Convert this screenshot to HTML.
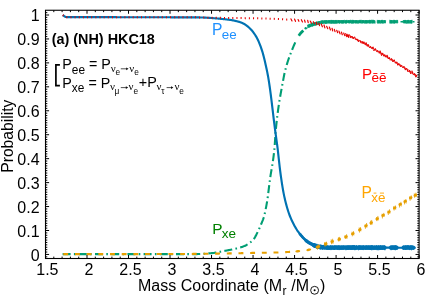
<!DOCTYPE html>
<html><head><meta charset="utf-8"><title>Neutrino survival probability</title>
<style>html,body{margin:0;padding:0;background:#fff;}svg{display:block;will-change:transform;}</style>
</head><body>
<svg width="436" height="305" viewBox="0 0 436 305">
<rect x="0" y="0" width="436" height="305" fill="#fff"/>
<clipPath id="cp"><rect x="45.5" y="10.25" width="373.6" height="248.25"/></clipPath>
<g clip-path="url(#cp)" fill="none" stroke-linejoin="round">
<polyline points="62.60,254.15 63.10,254.15 63.60,254.15 64.10,254.15 64.60,254.15 65.10,254.15 65.60,254.15 66.10,254.15 66.60,254.15 67.10,254.15 67.60,254.15 68.10,254.15 68.60,254.15 69.10,254.15 69.60,254.15 70.10,254.15 70.60,254.15 71.10,254.15 71.60,254.15 72.10,254.15 72.60,254.15 73.10,254.15 73.60,254.15 74.10,254.15 74.60,254.15 75.10,254.15 75.60,254.15 76.10,254.15 76.60,254.15 77.10,254.15 77.60,254.15 78.10,254.15 78.60,254.15 79.10,254.15 79.60,254.15 80.10,254.15 80.60,254.15 81.10,254.15 81.60,254.15 82.10,254.15 82.60,254.15 83.10,254.15 83.60,254.15 84.10,254.15 84.60,254.15 85.10,254.15 85.60,254.15 86.10,254.15 86.60,254.15 87.10,254.15 87.60,254.15 88.10,254.15 88.60,254.15 89.10,254.15 89.60,254.15 90.10,254.15 90.60,254.15 91.10,254.15 91.60,254.15 92.10,254.15 92.60,254.15 93.10,254.15 93.60,254.15 94.10,254.15 94.60,254.15 95.10,254.15 95.60,254.15 96.10,254.15 96.60,254.15 97.10,254.15 97.60,254.15 98.10,254.15 98.60,254.15 99.10,254.15 99.60,254.15 100.10,254.15 100.60,254.15 101.10,254.15 101.60,254.15 102.10,254.15 102.60,254.15 103.10,254.15 103.60,254.15 104.10,254.15 104.60,254.15 105.10,254.15 105.60,254.15 106.10,254.15 106.60,254.15 107.10,254.15 107.60,254.15 108.10,254.15 108.60,254.15 109.10,254.15 109.60,254.15 110.10,254.15 110.60,254.15 111.10,254.15 111.60,254.15 112.10,254.15 112.60,254.15 113.10,254.15 113.60,254.15 114.10,254.15 114.60,254.15 115.10,254.15 115.60,254.15 116.10,254.15 116.60,254.14 117.10,254.14 117.60,254.14 118.10,254.14 118.60,254.14 119.10,254.14 119.60,254.14 120.10,254.14 120.60,254.14 121.10,254.14 121.60,254.14 122.10,254.14 122.60,254.14 123.10,254.14 123.60,254.14 124.10,254.14 124.60,254.14 125.10,254.14 125.60,254.14 126.10,254.14 126.60,254.14 127.10,254.14 127.60,254.14 128.10,254.14 128.60,254.14 129.10,254.14 129.60,254.14 130.10,254.14 130.60,254.14 131.10,254.14 131.60,254.14 132.10,254.14 132.60,254.14 133.10,254.14 133.60,254.14 134.10,254.14 134.60,254.14 135.10,254.14 135.60,254.14 136.10,254.14 136.60,254.14 137.10,254.14 137.60,254.14 138.10,254.14 138.60,254.14 139.10,254.14 139.60,254.14 140.10,254.14 140.60,254.14 141.10,254.14 141.60,254.14 142.10,254.14 142.60,254.14 143.10,254.14 143.60,254.14 144.10,254.14 144.60,254.14 145.10,254.14 145.60,254.14 146.10,254.13 146.60,254.13 147.10,254.13 147.60,254.13 148.10,254.13 148.60,254.13 149.10,254.13 149.60,254.13 150.10,254.13 150.60,254.13 151.10,254.13 151.60,254.13 152.10,254.13 152.60,254.13 153.10,254.13 153.60,254.13 154.10,254.13 154.60,254.13 155.10,254.13 155.60,254.13 156.10,254.13 156.60,254.13 157.10,254.13 157.60,254.13 158.10,254.13 158.60,254.13 159.10,254.13 159.60,254.13 160.10,254.13 160.60,254.13 161.10,254.13 161.60,254.13 162.10,254.13 162.60,254.13 163.10,254.13 163.60,254.13 164.10,254.13 164.60,254.12 165.10,254.12 165.60,254.12 166.10,254.12 166.60,254.12 167.10,254.12 167.60,254.12 168.10,254.12 168.60,254.12 169.10,254.12 169.60,254.12 170.10,254.12 170.60,254.12 171.10,254.12 171.60,254.12 172.10,254.12 172.60,254.12 173.10,254.12 173.60,254.12 174.10,254.12 174.60,254.12 175.10,254.12 175.60,254.12 176.10,254.12 176.60,254.12 177.10,254.12 177.60,254.12 178.10,254.12 178.60,254.11 179.10,254.11 179.60,254.11 180.10,254.11 180.60,254.11 181.10,254.11 181.60,254.11 182.10,254.11 182.60,254.11 183.10,254.11 183.60,254.11 184.10,254.11 184.60,254.11 185.10,254.11 185.60,254.11 186.10,254.11 186.60,254.11 187.10,254.11 187.60,254.11 188.10,254.11 188.60,254.11 189.10,254.11 189.60,254.11 190.10,254.10 190.60,254.10 191.10,254.10 191.60,254.10 192.10,254.10 192.60,254.10 193.10,254.10 193.60,254.10 194.10,254.10 194.60,254.10 195.10,254.10 195.60,254.10 196.10,254.09 196.60,254.09 197.10,254.08 197.60,254.07 198.10,254.05 198.60,254.04 199.10,254.02 199.60,254.00 200.10,253.98 200.60,253.96 201.10,253.93 201.60,253.90 202.10,253.88 202.60,253.85 203.10,253.82 203.60,253.78 204.10,253.75 204.60,253.72 205.10,253.68 205.60,253.64 206.10,253.60 206.60,253.57 207.10,253.53 207.60,253.48 208.10,253.44 208.60,253.40 209.10,253.36 209.60,253.31 210.10,253.27 210.60,253.23 211.10,253.18 211.60,253.14 212.10,253.09 212.60,253.04 213.10,252.99 213.60,252.92 214.10,252.86 214.60,252.78 215.10,252.71 215.60,252.63 216.10,252.54 216.60,252.46 217.10,252.36 217.60,252.27 218.10,252.17 218.60,252.08 219.10,251.98 219.60,251.88 220.10,251.78 220.60,251.67 221.10,251.57 221.60,251.47 222.10,251.37 222.60,251.27 223.10,251.17 223.60,251.08 224.10,250.98 224.60,250.89 225.10,250.80 225.60,250.70 226.10,250.61 226.60,250.52 227.10,250.43 227.60,250.33 228.10,250.24 228.60,250.14 229.10,250.05 229.60,249.95 230.10,249.86 230.60,249.76 231.10,249.66 231.60,249.55 232.10,249.45 232.60,249.34 233.10,249.23 233.60,249.12 234.10,249.01 234.60,248.89 235.10,248.78 235.60,248.66 236.10,248.54 236.60,248.42 237.10,248.30 237.60,248.17 238.10,248.05 238.60,247.92 239.10,247.79 239.60,247.65 240.10,247.51 240.60,247.37 241.10,247.22 241.60,247.06 242.10,246.89 242.60,246.72 243.10,246.53 243.60,246.34 244.10,246.14 244.60,245.93 245.10,245.70 245.60,245.46 246.10,245.21 246.60,244.94 247.10,244.65 247.60,244.35 248.10,244.03 248.60,243.70 249.10,243.34 249.60,242.97 250.10,242.58 250.60,242.17 251.10,241.74 251.60,241.29 252.10,240.82 252.60,240.33 253.10,239.82 253.60,239.27 254.10,238.63 254.60,237.87 255.10,237.03 255.60,236.12 256.10,235.15 256.60,234.15 257.10,233.13 257.60,232.11 258.10,231.09 258.60,230.05 259.10,228.95 259.60,227.82 260.10,226.65 260.60,225.46 261.10,224.26 261.60,223.08 262.10,221.91 262.60,220.67 263.10,219.33 263.60,217.83 264.10,216.10 264.60,214.15 265.10,211.99 265.60,209.63 266.10,207.08 266.60,204.37 267.10,201.50 267.60,198.25 268.10,194.50 268.60,190.46 269.10,186.32 269.60,182.29 270.10,178.56 270.60,175.21 271.10,172.14 271.60,169.22 272.10,166.29 272.60,163.24 273.10,159.93 273.60,156.22 274.10,151.98 274.60,147.07 275.10,139.50 275.60,131.92 276.10,126.79 276.60,122.05 277.10,117.67 277.60,113.60 278.10,109.83 278.60,106.31 279.10,103.01 279.60,99.90 280.10,96.95 280.60,94.12 281.10,91.37 281.60,88.68 282.10,86.01 282.60,83.34 283.10,80.61 283.60,77.84 284.10,75.20 284.60,72.84 285.10,70.81 285.60,68.91 286.10,67.08 286.60,65.34 287.10,63.66 287.60,62.06 288.10,60.51 288.60,59.02 289.10,57.58 289.60,56.19 290.10,54.84 290.60,53.53 291.10,52.25 291.60,50.99 292.10,49.75 292.60,48.53 293.10,47.33 293.60,46.14 294.10,44.97 294.60,43.82 295.10,42.71 295.60,41.62 296.10,40.57 296.60,39.56" stroke="#009e73" stroke-width="2.1" stroke-dasharray="8 3.3 1.6 3.3"/>
<polyline points="298.80,35.68 299.30,34.94 299.80,34.26 300.30,33.62 300.80,33.02 301.30,32.46 301.80,31.92 302.30,31.41 302.80,30.92 303.30,30.44" stroke="#009e73" stroke-width="2.8"/>
<circle cx="305.7" cy="28.3" r="1.2" fill="#009e73"/>
<polyline points="308.00,26.45 308.50,26.15 309.00,25.90 309.50,25.68 310.00,25.47 310.50,25.28 311.00,25.10 311.50,24.94 312.00,24.78 312.50,24.63 313.00,24.49 313.50,24.35 314.00,24.22 314.50,24.09 315.00,23.96 315.50,23.83 316.00,23.70 316.50,23.56 317.00,23.43 317.50,23.28 318.00,23.14 318.50,23.00 319.00,22.86 319.50,22.73 320.00,22.61 320.50,22.49 321.00,22.38 321.50,22.29 322.00,22.21 322.50,22.15 323.00,22.10 323.50,22.06 324.00,22.03 324.50,22.00 325.00,21.97 325.50,21.94 326.00,21.91 326.50,21.89 327.00,21.87 327.50,21.85 328.00,21.83 328.50,21.82 329.00,21.81 329.50,21.80 330.00,21.80 330.50,21.80 331.00,21.80 331.50,21.80 332.00,21.79 332.50,21.79 333.00,21.79 333.50,21.79 334.00,21.79 334.50,21.79 335.00,21.79 335.50,21.78 336.00,21.78 336.50,21.78 337.00,21.78 337.50,21.78 338.00,21.78 338.50,21.78 339.00,21.77 339.50,21.77 340.00,21.77 340.50,21.77 341.00,21.77 341.50,21.77 342.00,21.77 342.50,21.77 343.00,21.76 343.50,21.76 344.00,21.76 344.50,21.76 345.00,21.76 345.50,21.76 346.00,21.76 346.50,21.76 347.00,21.76 347.50,21.75 348.00,21.75 348.50,21.75 349.00,21.75 349.50,21.75 350.00,21.75 350.50,21.75 351.00,21.75 351.50,21.75 352.00,21.75 352.50,21.75 353.00,21.74 353.50,21.74 354.00,21.74 354.50,21.74 355.00,21.74 355.50,21.74 356.00,21.74 356.50,21.74 357.00,21.74 357.50,21.74 358.00,21.74 358.50,21.73 359.00,21.73 359.50,21.73 360.00,21.73 360.50,21.73 361.00,21.73 361.50,21.73 362.00,21.73 362.50,21.73 363.00,21.73 363.50,21.73 364.00,21.73 364.50,21.73 365.00,21.73 365.50,21.73 366.00,21.72 366.50,21.72 367.00,21.72 367.50,21.72 368.00,21.72 368.50,21.72 369.00,21.72 369.50,21.72 370.00,21.72 370.50,21.72 371.00,21.72 371.50,21.72 372.00,21.72 372.50,21.72 373.00,21.72 373.50,21.72 374.00,21.72 374.50,21.72 375.00,21.71" stroke="#009e73" stroke-width="3.1" stroke-dasharray="2.7 0.7"/>
<polyline points="308.00,26.45 308.50,26.15 309.00,25.90 309.50,25.68 310.00,25.47 310.50,25.28 311.00,25.10 311.50,24.94 312.00,24.78 312.50,24.63 313.00,24.49 313.50,24.35 314.00,24.22 314.50,24.09 315.00,23.96 315.50,23.83 316.00,23.70 316.50,23.56 317.00,23.43 317.50,23.28 318.00,23.14 318.50,23.00 319.00,22.86 319.50,22.73 320.00,22.61 320.50,22.49 321.00,22.38 321.50,22.29 322.00,22.21 322.50,22.15 323.00,22.10 323.50,22.06 324.00,22.03 324.50,22.00 325.00,21.97 325.50,21.94 326.00,21.91 326.50,21.89 327.00,21.87 327.50,21.85 328.00,21.83 328.50,21.82 329.00,21.81 329.50,21.80 330.00,21.80 330.50,21.80 331.00,21.80 331.50,21.80 332.00,21.79 332.50,21.79 333.00,21.79 333.50,21.79 334.00,21.79 334.50,21.79 335.00,21.79 335.50,21.78 336.00,21.78 336.50,21.78 337.00,21.78 337.50,21.78 338.00,21.78 338.50,21.78 339.00,21.77 339.50,21.77 340.00,21.77 340.50,21.77 341.00,21.77 341.50,21.77 342.00,21.77 342.50,21.77 343.00,21.76 343.50,21.76 344.00,21.76 344.50,21.76 345.00,21.76 345.50,21.76 346.00,21.76 346.50,21.76 347.00,21.76 347.50,21.75 348.00,21.75 348.50,21.75 349.00,21.75 349.50,21.75 350.00,21.75 350.50,21.75 351.00,21.75 351.50,21.75 352.00,21.75 352.50,21.75 353.00,21.74 353.50,21.74 354.00,21.74 354.50,21.74 355.00,21.74 355.50,21.74 356.00,21.74 356.50,21.74 357.00,21.74 357.50,21.74 358.00,21.74 358.50,21.73 359.00,21.73 359.50,21.73 360.00,21.73 360.50,21.73 361.00,21.73 361.50,21.73 362.00,21.73 362.50,21.73 363.00,21.73 363.50,21.73 364.00,21.73 364.50,21.73 365.00,21.73 365.50,21.73 366.00,21.72 366.50,21.72 367.00,21.72 367.50,21.72 368.00,21.72 368.50,21.72 369.00,21.72 369.50,21.72 370.00,21.72 370.50,21.72 371.00,21.72 371.50,21.72 372.00,21.72 372.50,21.72 373.00,21.72 373.50,21.72 374.00,21.72 374.50,21.72 375.00,21.71" stroke="#009e73" stroke-width="2.2" stroke-opacity="0.4"/>
<polyline points="307.50,28.61 307.80,24.85 308.10,27.83 308.40,24.91 308.70,27.57 309.00,24.47 309.30,27.53 309.60,24.30 309.90,27.00 310.20,23.81 310.50,27.15 310.80,23.66 311.10,26.39 311.40,23.23 311.70,26.49 312.00,23.49 312.30,26.56 312.60,22.67 312.90,26.30 313.20,22.57 313.50,25.70 313.80,22.56 314.10,26.05 314.40,22.44 314.70,25.52 315.00,22.80 315.30,25.34 315.60,22.20 315.90,25.60 316.20,21.73 316.50,25.06 316.80,21.65 317.10,24.70 317.40,21.53 317.70,24.78 318.00,22.06 318.30,24.76 318.60,21.55 318.90,24.69 319.20,21.15 319.50,23.81 319.80,21.15 320.10,24.42 320.40,21.23 320.70,23.80 321.00,20.55 321.30,23.57 321.60,20.70 321.90,23.51 322.20,20.26 322.50,23.92 322.80,20.65 323.10,23.24 323.40,20.72 323.70,23.57 324.00,20.14 324.30,23.18 324.60,20.44 324.90,23.67 325.20,20.40 325.50,23.73 325.80,20.38 326.10,23.83 326.40,20.29 326.70,23.47 327.00,20.41 327.30,23.45 327.60,20.44 327.90,23.41 328.20,20.50 328.50,23.06 328.80,20.58 329.10,23.42 329.40,20.16 329.70,23.29 330.00,20.65 330.30,23.54 330.60,19.96 330.90,23.68 331.20,19.98 331.50,23.66 331.80,19.91 332.10,23.34 332.40,20.38 332.70,23.48 333.00,20.48 333.30,23.57 333.60,19.97 333.90,23.65 334.20,20.20 334.50,23.69 334.80,20.20 335.10,23.25 335.40,20.13 335.70,23.73 336.00,19.91 336.30,23.55 336.60,20.64 336.90,23.39 337.20,20.28 337.50,23.40 337.80,19.96 338.10,23.06 338.40,20.06 338.70,22.95 339.00,20.51 339.30,23.54 339.60,20.41 339.90,23.56 340.20,20.61 340.50,22.97 340.80,20.09 341.10,22.88 341.40,20.19 341.70,23.64 342.00,20.23 342.30,23.44 342.60,20.67 342.90,23.39 343.20,20.16 343.50,23.34 343.80,20.35 344.10,23.16 344.40,19.83 344.70,22.87 345.00,20.67 345.30,23.68 345.60,20.52 345.90,22.94 346.20,20.50 346.50,23.53 346.80,19.86 347.10,22.85 347.40,20.31 347.70,22.92 348.00,20.45 348.30,23.02 348.60,20.11 348.90,23.13 349.20,20.52 349.50,23.27 349.80,20.64 350.10,22.91 350.40,19.81 350.70,23.00 351.00,20.36 351.30,23.46 351.60,19.94 351.90,23.62 352.20,20.52 352.50,23.41 352.80,19.82 353.10,22.87 353.40,20.08 353.70,23.56 354.00,20.37 354.30,23.03 354.60,20.15 354.90,23.20 355.20,20.51 355.50,23.23 355.80,20.31 356.10,23.31 356.40,20.22 356.70,23.08 357.00,20.35 357.30,23.54 357.60,20.44 357.90,23.30 358.20,20.65 358.50,23.46 358.80,20.37 359.10,22.85 359.40,20.41 359.70,23.02 360.00,19.82 360.30,23.11 360.60,20.41 360.90,23.12 361.20,19.83 361.50,23.36 361.80,20.11 362.10,23.43 362.40,20.32 362.70,23.16 363.00,20.08 363.30,22.80 363.60,20.49 363.90,23.09 364.20,20.44 364.50,23.36 364.80,20.32 365.10,23.57 365.40,20.15 365.70,23.16 366.00,20.30 366.30,23.41 366.60,20.28 366.90,23.38 367.20,20.61 367.50,23.19 367.80,20.42 368.10,22.93 368.40,20.19 368.70,23.22 369.00,20.16 369.30,23.46 369.60,19.87 369.90,23.23 370.20,20.37 370.50,23.20 370.80,19.94 371.10,23.56 371.40,19.93 371.70,22.96 372.00,19.77 372.30,23.35 372.60,20.57 372.90,23.43 373.20,19.78 373.50,23.14 373.80,20.05 374.10,23.07 374.40,20.46 374.70,23.42 375.00,20.64 375.30,23.51" stroke="#009e73" stroke-width="0.6" stroke-opacity="0.9"/>
<polyline points="377.50,21.71 378.00,21.71 378.50,21.71 379.00,21.71 379.50,21.71 380.00,21.71 380.50,21.71 381.00,21.71 381.50,21.71 382.00,21.71 382.50,21.71 383.00,21.71 383.50,21.71 384.00,21.71 384.50,21.71 385.00,21.71 385.50,21.71" stroke="#009e73" stroke-width="3.1" stroke-dasharray="2.4 0.9"/>
<polyline points="377.50,21.71 378.00,21.71 378.50,21.71 379.00,21.71 379.50,21.71 380.00,21.71 380.50,21.71 381.00,21.71 381.50,21.71 382.00,21.71 382.50,21.71 383.00,21.71 383.50,21.71 384.00,21.71 384.50,21.71 385.00,21.71 385.50,21.71" stroke="#009e73" stroke-width="2.2" stroke-opacity="0.4"/>
<polyline points="377.00,22.90 377.30,19.90 377.60,23.46 377.90,20.42 378.20,23.22 378.50,20.24 378.80,23.36 379.10,19.95 379.40,22.87 379.70,20.61 380.00,23.52 380.30,20.26 380.60,23.45 380.90,20.64 381.20,23.17 381.50,20.00 381.80,22.98 382.10,19.81 382.40,23.57 382.70,20.61 383.00,22.80 383.30,20.16 383.60,23.60 383.90,20.30 384.20,22.97 384.50,20.26 384.80,22.81 385.10,20.44 385.40,23.16 385.70,20.20" stroke="#009e73" stroke-width="0.6" stroke-opacity="0.9"/>
<polyline points="390.00,21.70 390.50,21.70 391.00,21.70 391.50,21.70 392.00,21.70 392.50,21.70 393.00,21.70 393.50,21.70 394.00,21.70 394.50,21.70 395.00,21.70 395.50,21.70 396.00,21.70 396.50,21.70 397.00,21.70 397.50,21.70" stroke="#009e73" stroke-width="3.1" stroke-dasharray="2.4 0.9"/>
<polyline points="390.00,21.70 390.50,21.70 391.00,21.70 391.50,21.70 392.00,21.70 392.50,21.70 393.00,21.70 393.50,21.70 394.00,21.70 394.50,21.70 395.00,21.70 395.50,21.70 396.00,21.70 396.50,21.70 397.00,21.70 397.50,21.70" stroke="#009e73" stroke-width="2.2" stroke-opacity="0.4"/>
<polyline points="389.50,23.62 389.80,19.80 390.10,22.83 390.40,20.56 390.70,23.51 391.00,19.99 391.30,23.36 391.60,20.36 391.90,23.31 392.20,20.10 392.50,23.29 392.80,20.49 393.10,23.15 393.40,20.29 393.70,23.41 394.00,19.76 394.30,23.61 394.60,20.15 394.90,23.17 395.20,20.40 395.50,22.81 395.80,20.61 396.10,23.18 396.40,20.35 396.70,23.11 397.00,19.85 397.30,23.24 397.60,20.14 397.90,22.98" stroke="#009e73" stroke-width="0.6" stroke-opacity="0.9"/>
<polyline points="403.50,21.70 404.00,21.70 404.50,21.70 405.00,21.70 405.50,21.70 406.00,21.70 406.50,21.70 407.00,21.70 407.50,21.70 408.00,21.70 408.50,21.70 409.00,21.70 409.50,21.70 410.00,21.70 410.50,21.70 411.00,21.70 411.50,21.70 412.00,21.70" stroke="#009e73" stroke-width="3.1" stroke-dasharray="2.5 0.8"/>
<polyline points="403.50,21.70 404.00,21.70 404.50,21.70 405.00,21.70 405.50,21.70 406.00,21.70 406.50,21.70 407.00,21.70 407.50,21.70 408.00,21.70 408.50,21.70 409.00,21.70 409.50,21.70 410.00,21.70 410.50,21.70 411.00,21.70 411.50,21.70 412.00,21.70" stroke="#009e73" stroke-width="2.2" stroke-opacity="0.4"/>
<polyline points="403.00,22.98 403.30,20.15 403.60,23.10 403.90,20.10 404.20,23.32 404.50,20.57 404.80,22.78 405.10,19.89 405.40,23.00 405.70,20.42 406.00,23.65 406.30,20.22 406.60,23.51 406.90,20.21 407.20,23.33 407.50,20.50 407.80,23.33 408.10,19.87 408.40,23.23 408.70,19.98 409.00,23.36 409.30,20.57 409.60,23.44 409.90,20.11 410.20,23.04 410.50,20.60 410.80,23.53 411.10,20.21 411.40,23.40 411.70,19.86 412.00,23.40 412.30,19.82" stroke="#009e73" stroke-width="0.6" stroke-opacity="0.9"/>
<polyline points="400.50,21.70 401.00,21.70 401.50,21.70 402.00,21.70 402.50,21.70 403.00,21.70" stroke="#009e73" stroke-width="1.6"/>
<polyline points="412.50,21.70 413.00,21.70 413.50,21.70 414.00,21.70 414.50,21.70" stroke="#009e73" stroke-width="1.6"/>
<polyline points="62.70,15.10 63.20,15.40 63.70,15.73 64.20,16.12 64.70,16.54 65.20,16.77 65.70,16.93 66.20,17.06 66.70,17.14 67.20,17.15 67.70,17.15 68.20,17.15 68.70,17.15 69.20,17.16 69.70,17.16 70.20,17.16 70.70,17.16 71.20,17.16 71.70,17.16 72.20,17.16 72.70,17.16 73.20,17.16 73.70,17.17 74.20,17.17 74.70,17.17 75.20,17.17 75.70,17.17 76.20,17.17 76.70,17.17 77.20,17.17 77.70,17.17 78.20,17.17 78.70,17.17 79.20,17.17 79.70,17.17 80.20,17.17 80.70,17.18 81.20,17.18 81.70,17.18 82.20,17.18 82.70,17.18 83.20,17.18 83.70,17.18 84.20,17.18 84.70,17.18 85.20,17.18 85.70,17.18 86.20,17.18 86.70,17.18 87.20,17.18 87.70,17.18 88.20,17.18 88.70,17.18 89.20,17.18 89.70,17.18 90.20,17.18 90.70,17.18 91.20,17.18 91.70,17.18 92.20,17.18 92.70,17.18 93.20,17.18 93.70,17.18 94.20,17.18 94.70,17.18 95.20,17.18 95.70,17.18 96.20,17.18 96.70,17.18 97.20,17.18 97.70,17.19 98.20,17.19 98.70,17.19 99.20,17.19 99.70,17.19 100.20,17.19 100.70,17.19 101.20,17.19 101.70,17.19 102.20,17.19 102.70,17.19 103.20,17.19 103.70,17.19 104.20,17.19 104.70,17.19 105.20,17.19 105.70,17.19 106.20,17.19 106.70,17.19 107.20,17.19 107.70,17.19 108.20,17.19 108.70,17.19 109.20,17.19 109.70,17.19 110.20,17.19 110.70,17.19 111.20,17.19 111.70,17.19 112.20,17.19 112.70,17.19 113.20,17.19 113.70,17.19 114.20,17.19 114.70,17.19 115.20,17.19 115.70,17.19 116.20,17.20 116.70,17.20 117.20,17.20 117.70,17.20 118.20,17.20 118.70,17.20 119.20,17.20 119.70,17.20 120.20,17.20 120.70,17.20 121.20,17.20 121.70,17.20 122.20,17.20 122.70,17.20 123.20,17.20 123.70,17.21 124.20,17.21 124.70,17.21 125.20,17.21 125.70,17.21 126.20,17.21 126.70,17.21 127.20,17.21 127.70,17.21 128.20,17.21 128.70,17.21 129.20,17.21 129.70,17.21 130.20,17.21 130.70,17.21 131.20,17.21 131.70,17.22 132.20,17.22 132.70,17.22 133.20,17.22 133.70,17.22 134.20,17.22 134.70,17.22 135.20,17.22 135.70,17.22 136.20,17.22 136.70,17.22 137.20,17.22 137.70,17.22 138.20,17.22 138.70,17.23 139.20,17.23 139.70,17.23 140.20,17.23 140.70,17.23 141.20,17.23 141.70,17.23 142.20,17.23 142.70,17.23 143.20,17.23 143.70,17.23 144.20,17.23 144.70,17.23 145.20,17.23 145.70,17.24 146.20,17.24 146.70,17.24 147.20,17.24 147.70,17.24 148.20,17.24 148.70,17.24 149.20,17.24 149.70,17.24 150.20,17.24 150.70,17.24 151.20,17.25 151.70,17.25 152.20,17.25 152.70,17.25 153.20,17.25 153.70,17.25 154.20,17.25 154.70,17.25 155.20,17.25 155.70,17.25 156.20,17.26 156.70,17.26 157.20,17.26 157.70,17.26 158.20,17.26 158.70,17.26 159.20,17.26 159.70,17.26 160.20,17.27 160.70,17.27 161.20,17.27 161.70,17.27 162.20,17.27 162.70,17.27 163.20,17.27 163.70,17.27 164.20,17.28 164.70,17.28 165.20,17.28 165.70,17.28 166.20,17.28 166.70,17.28 167.20,17.28 167.70,17.29 168.20,17.29 168.70,17.29 169.20,17.29 169.70,17.29 170.20,17.29 170.70,17.30 171.20,17.30 171.70,17.30 172.20,17.30 172.70,17.30 173.20,17.30 173.70,17.31 174.20,17.31 174.70,17.31 175.20,17.31 175.70,17.31 176.20,17.32 176.70,17.32 177.20,17.32 177.70,17.32 178.20,17.32 178.70,17.33 179.20,17.33 179.70,17.33 180.20,17.33 180.70,17.34 181.20,17.34 181.70,17.34 182.20,17.34 182.70,17.34 183.20,17.35 183.70,17.35 184.20,17.35 184.70,17.35 185.20,17.36 185.70,17.36 186.20,17.36 186.70,17.37 187.20,17.37 187.70,17.37 188.20,17.37 188.70,17.38 189.20,17.38 189.70,17.38 190.20,17.38 190.70,17.39 191.20,17.39 191.70,17.39 192.20,17.40 192.70,17.40 193.20,17.40 193.70,17.41 194.20,17.41 194.70,17.41 195.20,17.42 195.70,17.42 196.20,17.42 196.70,17.43 197.20,17.43 197.70,17.43 198.20,17.44 198.70,17.44 199.20,17.44 199.70,17.45 200.20,17.45 200.70,17.46 201.20,17.47 201.70,17.48 202.20,17.49 202.70,17.51 203.20,17.53 203.70,17.55 204.20,17.57 204.70,17.59 205.20,17.62 205.70,17.64 206.20,17.67 206.70,17.70 207.20,17.73 207.70,17.77 208.20,17.80 208.70,17.83 209.20,17.87 209.70,17.90 210.20,17.94 210.70,17.98 211.20,18.02 211.70,18.05 212.20,18.09 212.70,18.13 213.20,18.17 213.70,18.20 214.20,18.24 214.70,18.28 215.20,18.31 215.70,18.35 216.20,18.39 216.70,18.43 217.20,18.48 217.70,18.52 218.20,18.57 218.70,18.61 219.20,18.66 219.70,18.71 220.20,18.76 220.70,18.81 221.20,18.86 221.70,18.92 222.20,18.97 222.70,19.02 223.20,19.08 223.70,19.13 224.20,19.18 224.70,19.24 225.20,19.29 225.70,19.34 226.20,19.40 226.70,19.45 227.20,19.50 227.70,19.56 228.20,19.62 228.70,19.69 229.20,19.76 229.70,19.83 230.20,19.90 230.70,19.98 231.20,20.06 231.70,20.15 232.20,20.24 232.70,20.33 233.20,20.42 233.70,20.52 234.20,20.63 234.70,20.73 235.20,20.84 235.70,20.96 236.20,21.08 236.70,21.20 237.20,21.33 237.70,21.46 238.20,21.60 238.70,21.74 239.20,21.89 239.70,22.05 240.20,22.22 240.70,22.39 241.20,22.58 241.70,22.77 242.20,22.97 242.70,23.19 243.20,23.42 243.70,23.68 244.20,23.96 244.70,24.26 245.20,24.58 245.70,24.91 246.20,25.27 246.70,25.64 247.20,26.03 247.70,26.43 248.20,26.85 248.70,27.28 249.20,27.72 249.70,28.18 250.20,28.66 250.70,29.17 251.20,29.70 251.70,30.27 252.20,30.86 252.70,31.48 253.20,32.13 253.70,32.80 254.20,33.51 254.70,34.25 255.20,35.01 255.70,35.81 256.20,36.63 256.70,37.50 257.20,38.43 257.70,39.43 258.20,40.50 258.70,41.63 259.20,42.82 259.70,44.06 260.20,45.37 260.70,46.73 261.20,48.14 261.70,49.60 262.20,51.14 262.70,52.81 263.20,54.60 263.70,56.49 264.20,58.48 264.70,60.55 265.20,62.70 265.70,64.91 266.20,67.16 266.70,69.46 267.20,71.86 267.70,74.42 268.20,77.16 268.70,80.11 269.20,83.31 269.70,86.75 270.20,90.39 270.70,94.19 271.20,98.14 271.70,102.18 272.20,106.30 272.70,110.46 273.20,114.63 273.70,118.77 274.20,122.86 274.70,126.86 275.20,130.74 275.70,134.47 276.20,138.02 276.70,141.55 277.20,145.23 277.70,149.23 278.20,153.56 278.70,158.08 279.20,162.62 279.70,167.06 280.20,171.23 280.70,175.00 281.20,178.47 281.70,181.82 282.20,185.05 282.70,188.11 283.20,190.99 283.70,193.66 284.20,196.10 284.70,198.31 285.20,200.42 285.70,202.44 286.20,204.37 286.70,206.22 287.20,207.98 287.70,209.65 288.20,211.24 288.70,212.75 289.20,214.17 289.70,215.50 290.20,216.76 290.70,217.95 291.20,219.10 291.70,220.21 292.20,221.29 292.70,222.33 293.20,223.34 293.70,224.32 294.20,225.27 294.70,226.18 295.20,227.06 295.70,227.91 296.20,228.74 296.70,229.53 297.20,230.30 297.70,231.03 298.20,231.75 298.70,232.43 299.20,233.09 299.70,233.73 300.20,234.35 300.70,234.96 301.20,235.55 301.70,236.14 302.20,236.71 302.70,237.27 303.20,237.81 303.70,238.34 304.20,238.85 304.70,239.34 305.20,239.81 305.70,240.26 306.20,240.69 306.70,241.10 307.20,241.48 307.70,241.84 308.20,242.18 308.70,242.48 309.20,242.77 309.70,243.05 310.20,243.33 310.70,243.60 311.20,243.87 311.70,244.14 312.20,244.39 312.70,244.64 313.20,244.88 313.70,245.12 314.20,245.34 314.70,245.55 315.20,245.75 315.70,245.95 316.20,246.12 316.70,246.29 317.20,246.44 317.70,246.58 318.20,246.70 318.70,246.81 319.20,246.89 319.70,246.97 320.20,247.02 320.70,247.07 321.20,247.12 321.70,247.17 322.20,247.21 322.70,247.25 323.20,247.30 323.70,247.33 324.20,247.37 324.70,247.41 325.20,247.44 325.70,247.47 326.20,247.49 326.70,247.52 327.20,247.54 327.70,247.56 328.20,247.57 328.70,247.58 329.20,247.59 329.70,247.60 330.20,247.60 330.70,247.60 331.20,247.60 331.70,247.61 332.20,247.61 332.70,247.61 333.20,247.61 333.70,247.61 334.20,247.61 334.70,247.61 335.20,247.62 335.70,247.62 336.20,247.62 336.70,247.62 337.20,247.62 337.70,247.62 338.20,247.62 338.70,247.62 339.20,247.63 339.70,247.63 340.20,247.63 340.70,247.63 341.20,247.63 341.70,247.63 342.20,247.63 342.70,247.63 343.20,247.64 343.70,247.64 344.20,247.64 344.70,247.64 345.20,247.64 345.70,247.64 346.20,247.64 346.70,247.64 347.20,247.64 347.70,247.65 348.20,247.65 348.70,247.65 349.20,247.65 349.70,247.65 350.20,247.65 350.70,247.65 351.20,247.65 351.70,247.65 352.20,247.65 352.70,247.65 353.20,247.66 353.70,247.66 354.20,247.66 354.70,247.66 355.20,247.66 355.70,247.66 356.20,247.66 356.70,247.66 357.20,247.66 357.70,247.66 358.20,247.66 358.70,247.66 359.20,247.67 359.70,247.67 360.20,247.67 360.70,247.67 361.20,247.67 361.70,247.67 362.20,247.67 362.70,247.67 363.20,247.67 363.70,247.67 364.20,247.67 364.70,247.67 365.20,247.67 365.70,247.67 366.20,247.68 366.70,247.68 367.20,247.68 367.70,247.68 368.20,247.68 368.70,247.68 369.20,247.68 369.70,247.68 370.20,247.68 370.70,247.68 371.20,247.68 371.70,247.68 372.20,247.68 372.70,247.68 373.20,247.68 373.70,247.68 374.20,247.68 374.70,247.68 375.20,247.68 375.70,247.69 376.20,247.69 376.70,247.69 377.20,247.69 377.70,247.69 378.20,247.69 378.70,247.69 379.20,247.69 379.70,247.69 380.20,247.69 380.70,247.69 381.20,247.69 381.70,247.69 382.20,247.69 382.70,247.69 383.20,247.69 383.70,247.69 384.20,247.69 384.70,247.69 385.20,247.69 385.70,247.69 386.20,247.69 386.70,247.69 387.20,247.69 387.70,247.69 388.20,247.69 388.70,247.69 389.20,247.69 389.70,247.69 390.20,247.69 390.70,247.70 391.20,247.70 391.70,247.70 392.20,247.70 392.70,247.70 393.20,247.70 393.70,247.70 394.20,247.70 394.70,247.70 395.20,247.70 395.70,247.70 396.20,247.70 396.70,247.70 397.20,247.70 397.70,247.70 398.20,247.70 398.70,247.70 399.20,247.70 399.70,247.70 400.20,247.70 400.70,247.70 401.20,247.70 401.70,247.70 402.20,247.70 402.70,247.70 403.20,247.70 403.70,247.70 404.20,247.70 404.70,247.70 405.20,247.70 405.70,247.70 406.20,247.70 406.70,247.70 407.20,247.70 407.70,247.70 408.20,247.70 408.70,247.70 409.20,247.70 409.70,247.70 410.20,247.70 410.70,247.70 411.20,247.70 411.70,247.70 412.20,247.70 412.70,247.70 413.20,247.70 413.70,247.70 414.20,247.70 414.70,247.70 415.20,247.70 415.70,247.70" stroke="#0072b2" stroke-width="2.15"/>
<polyline points="314.00,245.25 314.50,245.47 315.00,245.68 315.50,245.87 316.00,246.05 316.50,246.22 317.00,246.38 317.50,246.52 318.00,246.65 318.50,246.77 319.00,246.86 319.50,246.94 320.00,247.00 320.50,247.05 321.00,247.10 321.50,247.15 322.00,247.19 322.50,247.24 323.00,247.28 323.50,247.32 324.00,247.36 324.50,247.39 325.00,247.42 325.50,247.46 326.00,247.48 326.50,247.51 327.00,247.53 327.50,247.55 328.00,247.57 328.50,247.58 329.00,247.59 329.50,247.60 330.00,247.60 330.50,247.60 331.00,247.60 331.50,247.60 332.00,247.61 332.50,247.61 333.00,247.61 333.50,247.61 334.00,247.61 334.50,247.61 335.00,247.61 335.50,247.62 336.00,247.62 336.50,247.62 337.00,247.62 337.50,247.62 338.00,247.62 338.50,247.62 339.00,247.63 339.50,247.63 340.00,247.63 340.50,247.63 341.00,247.63 341.50,247.63 342.00,247.63 342.50,247.63 343.00,247.63 343.50,247.64 344.00,247.64 344.50,247.64 345.00,247.64 345.50,247.64 346.00,247.64 346.50,247.64 347.00,247.64 347.50,247.64 348.00,247.65 348.50,247.65 349.00,247.65 349.50,247.65 350.00,247.65 350.50,247.65 351.00,247.65 351.50,247.65 352.00,247.65 352.50,247.65 353.00,247.66 353.50,247.66 354.00,247.66 354.50,247.66 355.00,247.66 355.50,247.66 356.00,247.66 356.50,247.66 357.00,247.66 357.50,247.66 358.00,247.66 358.50,247.66 359.00,247.67 359.50,247.67 360.00,247.67 360.50,247.67 361.00,247.67 361.50,247.67 362.00,247.67 362.50,247.67 363.00,247.67 363.50,247.67 364.00,247.67 364.50,247.67 365.00,247.67 365.50,247.67 366.00,247.68 366.50,247.68 367.00,247.68 367.50,247.68 368.00,247.68 368.50,247.68 369.00,247.68 369.50,247.68 370.00,247.68 370.50,247.68 371.00,247.68 371.50,247.68 372.00,247.68 372.50,247.68 373.00,247.68 373.50,247.68 374.00,247.68 374.50,247.68 375.00,247.68 375.50,247.69 376.00,247.69 376.50,247.69 377.00,247.69 377.50,247.69 378.00,247.69 378.50,247.69 379.00,247.69 379.50,247.69 380.00,247.69 380.50,247.69 381.00,247.69 381.50,247.69 382.00,247.69 382.50,247.69 383.00,247.69 383.50,247.69 384.00,247.69 384.50,247.69" stroke="#0072b2" stroke-width="4.3" stroke-linecap="round"/>
<polyline points="313.50,247.08 313.80,243.27 314.10,247.36 314.40,243.79 314.70,247.89 315.00,243.33 315.30,247.95 315.60,244.32 315.90,248.02 316.20,244.35 316.50,247.91 316.80,243.83 317.10,248.96 317.40,245.04 317.70,248.97 318.00,244.56 318.30,248.56 318.60,245.06 318.90,249.02 319.20,244.97 319.50,249.13 319.80,244.82 320.10,248.57 320.40,244.76 320.70,249.60 321.00,244.59 321.30,249.23 321.60,245.70 321.90,248.59 322.20,245.65 322.50,249.72 322.80,245.51 323.10,249.11 323.40,244.88 323.70,249.10 324.00,245.32 324.30,249.28 324.60,245.92 324.90,249.49 325.20,245.07 325.50,249.04 325.80,245.81 326.10,249.36 326.40,246.06 326.70,249.49 327.00,245.19 327.30,249.70 327.60,245.54 327.90,249.95 328.20,246.00 328.50,249.63 328.80,245.75 329.10,249.68 329.40,246.06 329.70,249.89 330.00,246.09 330.30,249.19 330.60,245.27 330.90,250.09 331.20,245.70 331.50,249.48 331.80,245.92 332.10,249.32 332.40,245.50 332.70,249.22 333.00,246.07 333.30,249.54 333.60,246.02 333.90,249.76 334.20,245.27 334.50,249.91 334.80,245.66 335.10,249.42 335.40,245.71 335.70,249.02 336.00,245.40 336.30,249.40 336.60,245.85 336.90,249.11 337.20,245.70 337.50,249.69 337.80,245.77 338.10,250.02 338.40,245.45 338.70,249.30 339.00,245.62 339.30,250.07 339.60,245.63 339.90,249.72 340.20,246.15 340.50,249.59 340.80,245.70 341.10,249.49 341.40,245.75 341.70,249.71 342.00,245.61 342.30,249.60 342.60,246.04 342.90,249.54 343.20,245.12 343.50,249.51 343.80,246.19 344.10,249.04 344.40,245.62 344.70,249.10 345.00,246.13 345.30,249.17 345.60,245.72 345.90,250.18 346.20,245.68 346.50,249.57 346.80,245.74 347.10,249.62 347.40,245.73 347.70,249.88 348.00,245.21 348.30,249.85 348.60,245.76 348.90,249.80 349.20,245.20 349.50,249.23 349.80,245.97 350.10,249.76 350.40,245.46 350.70,249.79 351.00,245.57 351.30,250.01 351.60,245.70 351.90,249.98 352.20,245.15 352.50,249.56 352.80,245.27 353.10,249.88 353.40,245.23 353.70,249.11 354.00,245.21 354.30,249.94 354.60,245.15 354.90,250.19 355.20,245.93 355.50,249.83 355.80,246.10 356.10,249.75 356.40,245.20 356.70,249.28 357.00,245.86 357.30,249.16 357.60,246.04 357.90,249.30 358.20,246.15 358.50,250.21 358.80,245.24 359.10,249.60 359.40,245.41 359.70,249.87 360.00,245.66 360.30,249.56 360.60,245.50 360.90,249.71 361.20,245.96 361.50,249.49 361.80,245.55 362.10,249.79 362.40,246.03 362.70,249.77 363.00,245.26 363.30,250.07 363.60,245.52 363.90,249.16 364.20,245.78 364.50,249.18 364.80,246.21 365.10,249.37 365.40,245.75 365.70,249.95 366.00,245.55 366.30,249.40 366.60,245.48 366.90,249.66 367.20,245.69 367.50,249.38 367.80,245.77 368.10,249.47 368.40,245.44 368.70,249.63 369.00,245.76 369.30,249.63 369.60,245.73 369.90,249.87 370.20,245.45 370.50,250.00 370.80,245.81 371.10,249.99 371.40,245.17 371.70,250.22 372.00,245.45 372.30,249.16 372.60,245.31 372.90,250.05 373.20,246.26 373.50,249.46 373.80,245.91 374.10,249.94 374.40,245.58 374.70,249.41 375.00,246.07 375.30,249.28 375.60,246.17 375.90,250.00 376.20,245.21 376.50,249.34 376.80,245.43 377.10,250.18 377.40,246.06 377.70,249.75 378.00,245.78 378.30,250.21 378.60,245.29 378.90,249.11 379.20,246.05 379.50,250.06 379.80,245.63 380.10,249.69 380.40,245.36 380.70,249.97 381.00,245.19 381.30,249.47 381.60,246.23 381.90,249.89 382.20,246.23 382.50,249.74 382.80,245.30 383.10,249.55 383.40,245.60 383.70,249.29 384.00,246.11 384.30,249.79 384.60,245.30 384.90,250.24 385.20,246.25" stroke="#0072b2" stroke-width="0.7"/>
<polyline points="391.00,247.70 391.50,247.70 392.00,247.70 392.50,247.70 393.00,247.70 393.50,247.70 394.00,247.70 394.50,247.70 395.00,247.70 395.50,247.70 396.00,247.70 396.50,247.70" stroke="#0072b2" stroke-width="4.3" stroke-linecap="round"/>
<polyline points="390.50,249.62 390.80,245.65 391.10,250.16 391.40,245.76 391.70,249.68 392.00,245.62 392.30,249.31 392.60,245.71 392.90,249.82 393.20,245.38 393.50,249.21 393.80,245.95 394.10,249.20 394.40,245.37 394.70,249.89 395.00,246.25 395.30,250.23 395.60,245.19 395.90,249.85 396.20,245.59 396.50,249.28 396.80,246.28 397.10,249.71 397.40,246.23" stroke="#0072b2" stroke-width="0.7"/>
<polyline points="403.60,247.70 404.10,247.70 404.60,247.70 405.10,247.70 405.60,247.70 406.10,247.70 406.60,247.70 407.10,247.70 407.60,247.70 408.10,247.70 408.60,247.70 409.10,247.70 409.60,247.70 410.10,247.70 410.60,247.70 411.10,247.70 411.60,247.70 412.10,247.70 412.60,247.70 413.10,247.70" stroke="#0072b2" stroke-width="4.3" stroke-linecap="round"/>
<polyline points="403.10,249.65 403.40,245.54 403.70,249.87 404.00,246.13 404.30,249.11 404.60,245.87 404.90,249.42 405.20,245.37 405.50,249.89 405.80,245.61 406.10,249.74 406.40,245.54 406.70,249.27 407.00,245.79 407.30,249.29 407.60,245.26 407.90,249.17 408.20,245.36 408.50,249.19 408.80,245.51 409.10,249.49 409.40,245.83 409.70,250.07 410.00,246.28 410.30,249.17 410.60,245.25 410.90,249.69 411.20,246.19 411.50,250.24 411.80,245.21 412.10,249.23 412.40,245.81 412.70,249.26 413.00,245.94 413.30,249.82 413.60,246.11 413.90,249.90" stroke="#0072b2" stroke-width="0.7"/>
<polyline points="300.00,234.10 300.50,234.71 301.00,235.32 301.50,235.91 302.00,236.49 302.50,237.05 303.00,237.60 303.50,238.13 304.00,238.65 304.50,239.14 305.00,239.62 305.50,240.08 306.00,240.52 306.50,240.94 307.00,241.33 307.50,241.70 308.00,242.04 308.50,242.36 309.00,242.66 309.50,242.94 310.00,243.22 310.50,243.49 311.00,243.77 311.50,244.03 312.00,244.29 312.50,244.54 313.00,244.79 313.50,245.02 314.00,245.25 314.50,245.47 315.00,245.68" stroke="#0072b2" stroke-width="2.7" stroke-linecap="round"/>
<polyline points="306.00,240.52 306.50,240.94 307.00,241.33 307.50,241.70 308.00,242.04 308.50,242.36 309.00,242.66 309.50,242.94 310.00,243.22 310.50,243.49 311.00,243.77 311.50,244.03 312.00,244.29 312.50,244.54 313.00,244.79 313.50,245.02 314.00,245.25 314.50,245.47 315.00,245.68 315.50,245.87 316.00,246.05" stroke="#0072b2" stroke-width="3.4" stroke-linecap="round"/>
<polyline points="63.30,254.15 63.80,254.15 64.30,254.15 64.80,254.15 65.30,254.15 65.80,254.15 66.30,254.15 66.80,254.15 67.30,254.15 67.80,254.15 68.30,254.15 68.80,254.15 69.30,254.15 69.80,254.15 70.30,254.15 70.80,254.15 71.30,254.15 71.80,254.15 72.30,254.15 72.80,254.15 73.30,254.15 73.80,254.15 74.30,254.15 74.80,254.15 75.30,254.15 75.80,254.15 76.30,254.15 76.80,254.15 77.30,254.15 77.80,254.15 78.30,254.15 78.80,254.15 79.30,254.15 79.80,254.15 80.30,254.15 80.80,254.15 81.30,254.15 81.80,254.15 82.30,254.15 82.80,254.15 83.30,254.15 83.80,254.15 84.30,254.15 84.80,254.14 85.30,254.14 85.80,254.14 86.30,254.14 86.80,254.14 87.30,254.14 87.80,254.14 88.30,254.14 88.80,254.14 89.30,254.14 89.80,254.14 90.30,254.14 90.80,254.14 91.30,254.14 91.80,254.14 92.30,254.14 92.80,254.14 93.30,254.14 93.80,254.14 94.30,254.14 94.80,254.14 95.30,254.14 95.80,254.14 96.30,254.14 96.80,254.14 97.30,254.14 97.80,254.14 98.30,254.14 98.80,254.14 99.30,254.14 99.80,254.14 100.30,254.14 100.80,254.13 101.30,254.13 101.80,254.13 102.30,254.13 102.80,254.13 103.30,254.13 103.80,254.13 104.30,254.13 104.80,254.13 105.30,254.13 105.80,254.13 106.30,254.13 106.80,254.13 107.30,254.13 107.80,254.13 108.30,254.13 108.80,254.13 109.30,254.13 109.80,254.13 110.30,254.13 110.80,254.13 111.30,254.12 111.80,254.12 112.30,254.12 112.80,254.12 113.30,254.12 113.80,254.12 114.30,254.12 114.80,254.12 115.30,254.12 115.80,254.12 116.30,254.12 116.80,254.12 117.30,254.12 117.80,254.12 118.30,254.12 118.80,254.12 119.30,254.12 119.80,254.12 120.30,254.11 120.80,254.11 121.30,254.11 121.80,254.11 122.30,254.11 122.80,254.11 123.30,254.11 123.80,254.11 124.30,254.11 124.80,254.11 125.30,254.11 125.80,254.11 126.30,254.11 126.80,254.11 127.30,254.11 127.80,254.10 128.30,254.10 128.80,254.10 129.30,254.10 129.80,254.10 130.30,254.10 130.80,254.10 131.30,254.10 131.80,254.10 132.30,254.10 132.80,254.10 133.30,254.10 133.80,254.10 134.30,254.09 134.80,254.09 135.30,254.09 135.80,254.09 136.30,254.09 136.80,254.09 137.30,254.09 137.80,254.09 138.30,254.09 138.80,254.09 139.30,254.09 139.80,254.09 140.30,254.09 140.80,254.08 141.30,254.08 141.80,254.08 142.30,254.08 142.80,254.08 143.30,254.08 143.80,254.08 144.30,254.08 144.80,254.08 145.30,254.08 145.80,254.08 146.30,254.07 146.80,254.07 147.30,254.07 147.80,254.07 148.30,254.07 148.80,254.07 149.30,254.07 149.80,254.07 150.30,254.07 150.80,254.07 151.30,254.07 151.80,254.06 152.30,254.06 152.80,254.06 153.30,254.06 153.80,254.06 154.30,254.06 154.80,254.06 155.30,254.06 155.80,254.06 156.30,254.06 156.80,254.05 157.30,254.05 157.80,254.05 158.30,254.05 158.80,254.05 159.30,254.05 159.80,254.05 160.30,254.05 160.80,254.05 161.30,254.04 161.80,254.04 162.30,254.04 162.80,254.04 163.30,254.04 163.80,254.04 164.30,254.04 164.80,254.04 165.30,254.04 165.80,254.03 166.30,254.03 166.80,254.03 167.30,254.03 167.80,254.03 168.30,254.03 168.80,254.03 169.30,254.03 169.80,254.03 170.30,254.02 170.80,254.02 171.30,254.02 171.80,254.02 172.30,254.02 172.80,254.02 173.30,254.02 173.80,254.02 174.30,254.01 174.80,254.01 175.30,254.01 175.80,254.01 176.30,254.01 176.80,254.01 177.30,254.01 177.80,254.01 178.30,254.00 178.80,254.00 179.30,254.00 179.80,254.00 180.30,254.00 180.80,254.00 181.30,254.00 181.80,253.99 182.30,253.99 182.80,253.99 183.30,253.99 183.80,253.99 184.30,253.98 184.80,253.98 185.30,253.98 185.80,253.98 186.30,253.97 186.80,253.97 187.30,253.97 187.80,253.96 188.30,253.96 188.80,253.96 189.30,253.95 189.80,253.95 190.30,253.94 190.80,253.94 191.30,253.94 191.80,253.93 192.30,253.93 192.80,253.92 193.30,253.92 193.80,253.91 194.30,253.91 194.80,253.90 195.30,253.90 195.80,253.89 196.30,253.89 196.80,253.88 197.30,253.88 197.80,253.87 198.30,253.87 198.80,253.86 199.30,253.86 199.80,253.85 200.30,253.84 200.80,253.84 201.30,253.83 201.80,253.83 202.30,253.82 202.80,253.81 203.30,253.81 203.80,253.80 204.30,253.79 204.80,253.79 205.30,253.78 205.80,253.77 206.30,253.77 206.80,253.76 207.30,253.75 207.80,253.75 208.30,253.74 208.80,253.73 209.30,253.72 209.80,253.72 210.30,253.71 210.80,253.70 211.30,253.70 211.80,253.69 212.30,253.68 212.80,253.67 213.30,253.67 213.80,253.66 214.30,253.65 214.80,253.64 215.30,253.63 215.80,253.63 216.30,253.62 216.80,253.61 217.30,253.60 217.80,253.60 218.30,253.59 218.80,253.58 219.30,253.57 219.80,253.56 220.30,253.56 220.80,253.55 221.30,253.54 221.80,253.53 222.30,253.52 222.80,253.52 223.30,253.51 223.80,253.50 224.30,253.49 224.80,253.48 225.30,253.48 225.80,253.47 226.30,253.46 226.80,253.45 227.30,253.44 227.80,253.44 228.30,253.43 228.80,253.42 229.30,253.41 229.80,253.40 230.30,253.40 230.80,253.39 231.30,253.38 231.80,253.37 232.30,253.36 232.80,253.35 233.30,253.34 233.80,253.33 234.30,253.32 234.80,253.31 235.30,253.30 235.80,253.29 236.30,253.28 236.80,253.27 237.30,253.26 237.80,253.25 238.30,253.23 238.80,253.22 239.30,253.21 239.80,253.20 240.30,253.19 240.80,253.18 241.30,253.16 241.80,253.15 242.30,253.14 242.80,253.13 243.30,253.12 243.80,253.10 244.30,253.09 244.80,253.08 245.30,253.07 245.80,253.06 246.30,253.05 246.80,253.03 247.30,253.02 247.80,253.01 248.30,253.00 248.80,252.99 249.30,252.98 249.80,252.97 250.30,252.96 250.80,252.94 251.30,252.93 251.80,252.92 252.30,252.91 252.80,252.90 253.30,252.89 253.80,252.88 254.30,252.88 254.80,252.87 255.30,252.86 255.80,252.85 256.30,252.84 256.80,252.83 257.30,252.83 257.80,252.82 258.30,252.81 258.80,252.80 259.30,252.79 259.80,252.79 260.30,252.78 260.80,252.77 261.30,252.77 261.80,252.76 262.30,252.75 262.80,252.74 263.30,252.74 263.80,252.73 264.30,252.72 264.80,252.71 265.30,252.71 265.80,252.70 266.30,252.69 266.80,252.68 267.30,252.68 267.80,252.67 268.30,252.66 268.80,252.65 269.30,252.64 269.80,252.63 270.30,252.62 270.80,252.62 271.30,252.61 271.80,252.60 272.30,252.59 272.80,252.58 273.30,252.56 273.80,252.55 274.30,252.54 274.80,252.53 275.30,252.52 275.80,252.51 276.30,252.49 276.80,252.48 277.30,252.46 277.80,252.45 278.30,252.43 278.80,252.41 279.30,252.40 279.80,252.38 280.30,252.36 280.80,252.34 281.30,252.32 281.80,252.30 282.30,252.27 282.80,252.25 283.30,252.23 283.80,252.20 284.30,252.18 284.80,252.15 285.30,252.13 285.80,252.10 286.30,252.08 286.80,252.05 287.30,252.02 287.80,251.99 288.30,251.97 288.80,251.94 289.30,251.90 289.80,251.87 290.30,251.84 290.80,251.80 291.30,251.76 291.80,251.73" stroke="#e69f00" stroke-width="2.1" stroke-dasharray="4.9 6.78"/>
<ellipse cx="297.8" cy="251.2" rx="2.5" ry="1.25" transform="rotate(-5.5 297.8 251.2)" fill="#e69f00" stroke="none"/>
<ellipse cx="308.8" cy="249.8" rx="2.5" ry="1.25" transform="rotate(-10.6 308.8 249.8)" fill="#e69f00" stroke="none"/>
<ellipse cx="318.0" cy="246.9" rx="2.5" ry="1.4" transform="rotate(-19.5 318.0 246.9)" fill="#e69f00" stroke="none"/>
<path d="M317.18,245.30L317.48,249.34M318.59,244.84L318.89,248.60" stroke="#e69f00" stroke-width="0.8" stroke-linecap="round"/>
<ellipse cx="325.7" cy="243.9" rx="1.85" ry="1.4" transform="rotate(-20.9 325.7 243.9)" fill="#e69f00" stroke="none"/>
<path d="M324.77,242.40L325.07,246.20M326.42,242.06L326.72,245.34" stroke="#e69f00" stroke-width="0.8" stroke-linecap="round"/>
<ellipse cx="332.2" cy="241.5" rx="1.85" ry="1.4" transform="rotate(-18.7 332.2 241.5)" fill="#e69f00" stroke="none"/>
<path d="M331.24,239.77L331.54,243.82M332.62,239.17L332.92,243.54" stroke="#e69f00" stroke-width="0.8" stroke-linecap="round"/>
<ellipse cx="339.2" cy="239.3" rx="1.85" ry="1.4" transform="rotate(-19.0 339.2 239.3)" fill="#e69f00" stroke="none"/>
<path d="M338.46,237.62L338.76,241.16M339.61,237.29L339.91,240.70" stroke="#e69f00" stroke-width="0.8" stroke-linecap="round"/>
<ellipse cx="346.0" cy="236.7" rx="1.85" ry="1.4" transform="rotate(-22.3 346.0 236.7)" fill="#e69f00" stroke="none"/>
<path d="M345.08,235.41L345.38,238.60M346.59,234.65L346.89,238.55" stroke="#e69f00" stroke-width="0.8" stroke-linecap="round"/>
<ellipse cx="352.8" cy="233.7" rx="1.85" ry="1.4" transform="rotate(-26.5 352.8 233.7)" fill="#e69f00" stroke="none"/>
<path d="M352.01,232.14L352.31,235.94M353.46,231.54L353.76,235.06" stroke="#e69f00" stroke-width="0.8" stroke-linecap="round"/>
<ellipse cx="359.8" cy="229.7" rx="1.85" ry="1.4" transform="rotate(-31.1 359.8 229.7)" fill="#e69f00" stroke="none"/>
<path d="M359.20,227.86L359.50,232.15M360.48,227.56L360.78,230.95" stroke="#e69f00" stroke-width="0.8" stroke-linecap="round"/>
<ellipse cx="366.0" cy="225.8" rx="1.85" ry="1.4" transform="rotate(-31.0 366.0 225.8)" fill="#e69f00" stroke="none"/>
<path d="M365.12,224.79L365.42,228.38M366.56,223.38L366.86,227.24" stroke="#e69f00" stroke-width="0.8" stroke-linecap="round"/>
<ellipse cx="371.2" cy="222.8" rx="1.85" ry="1.4" transform="rotate(-31.7 371.2 222.8)" fill="#e69f00" stroke="none"/>
<path d="M370.58,221.08L370.88,224.67M371.68,220.36L371.98,224.33" stroke="#e69f00" stroke-width="0.8" stroke-linecap="round"/>
<ellipse cx="377.2" cy="218.8" rx="1.85" ry="1.4" transform="rotate(-32.2 377.2 218.8)" fill="#e69f00" stroke="none"/>
<path d="M376.59,217.41L376.89,220.74M377.85,216.35L378.15,220.08" stroke="#e69f00" stroke-width="0.8" stroke-linecap="round"/>
<ellipse cx="383.1" cy="215.3" rx="1.85" ry="1.4" transform="rotate(-30.2 383.1 215.3)" fill="#e69f00" stroke="none"/>
<path d="M382.13,214.13L382.43,218.04M383.80,213.31L384.10,216.57" stroke="#e69f00" stroke-width="0.8" stroke-linecap="round"/>
<ellipse cx="389.0" cy="211.9" rx="1.85" ry="1.4" transform="rotate(-32.4 389.0 211.9)" fill="#e69f00" stroke="none"/>
<path d="M388.04,210.95L388.34,214.55M389.47,209.70L389.77,213.41" stroke="#e69f00" stroke-width="0.8" stroke-linecap="round"/>
<ellipse cx="394.7" cy="207.9" rx="1.85" ry="1.4" transform="rotate(-33.9 394.7 207.9)" fill="#e69f00" stroke="none"/>
<path d="M393.78,206.52L394.08,210.13M395.36,205.88L395.66,209.26" stroke="#e69f00" stroke-width="0.8" stroke-linecap="round"/>
<ellipse cx="400.2" cy="204.4" rx="1.85" ry="1.4" transform="rotate(-31.6 400.2 204.4)" fill="#e69f00" stroke="none"/>
<path d="M399.29,203.28L399.59,207.15M400.92,202.25L401.22,206.08" stroke="#e69f00" stroke-width="0.8" stroke-linecap="round"/>
<ellipse cx="405.2" cy="201.4" rx="1.85" ry="1.4" transform="rotate(-32.1 405.2 201.4)" fill="#e69f00" stroke="none"/>
<path d="M404.28,200.19L404.58,204.06M405.86,199.41L406.16,203.17" stroke="#e69f00" stroke-width="0.8" stroke-linecap="round"/>
<ellipse cx="410.7" cy="197.8" rx="1.85" ry="1.4" transform="rotate(-31.2 410.7 197.8)" fill="#e69f00" stroke="none"/>
<path d="M409.79,196.69L410.09,200.41M411.23,195.78L411.53,199.04" stroke="#e69f00" stroke-width="0.8" stroke-linecap="round"/>
<ellipse cx="415.3" cy="195.2" rx="1.85" ry="1.4" transform="rotate(-30.0 415.3 195.2)" fill="#e69f00" stroke="none"/>
<path d="M414.34,193.84L414.64,197.42M415.94,193.07L416.24,196.64" stroke="#e69f00" stroke-width="0.8" stroke-linecap="round"/>
<polyline points="62.70,15.10 63.20,15.40 63.70,15.73 64.20,16.12 64.70,16.54 65.20,16.77 65.70,16.93 66.20,17.06 66.70,17.14 67.20,17.15 67.70,17.15 68.20,17.15 68.70,17.15 69.20,17.16 69.70,17.16 70.20,17.16 70.70,17.16 71.20,17.16 71.70,17.16 72.20,17.16 72.70,17.16 73.20,17.16 73.70,17.17 74.20,17.17 74.70,17.17 75.20,17.17 75.70,17.17 76.20,17.17 76.70,17.17 77.20,17.17 77.70,17.17 78.20,17.17 78.70,17.17 79.20,17.17 79.70,17.17 80.20,17.18 80.70,17.18 81.20,17.18 81.70,17.18 82.20,17.18 82.70,17.18 83.20,17.18 83.70,17.18 84.20,17.18 84.70,17.18 85.20,17.18 85.70,17.18 86.20,17.18 86.70,17.18 87.20,17.18 87.70,17.18 88.20,17.18 88.70,17.18 89.20,17.18 89.70,17.18 90.20,17.18 90.70,17.18 91.20,17.18 91.70,17.18 92.20,17.18 92.70,17.19 93.20,17.19 93.70,17.19 94.20,17.19 94.70,17.19 95.20,17.19 95.70,17.19 96.20,17.19 96.70,17.19 97.20,17.19 97.70,17.19 98.20,17.19 98.70,17.19 99.20,17.19 99.70,17.19 100.20,17.19 100.70,17.19 101.20,17.19 101.70,17.19 102.20,17.19 102.70,17.19 103.20,17.19 103.70,17.19 104.20,17.19 104.70,17.19 105.20,17.19 105.70,17.19 106.20,17.19 106.70,17.19 107.20,17.19 107.70,17.19 108.20,17.19 108.70,17.19 109.20,17.19 109.70,17.19 110.20,17.19 110.70,17.19 111.20,17.19 111.70,17.19 112.20,17.19 112.70,17.19 113.20,17.19 113.70,17.19 114.20,17.19 114.70,17.20 115.20,17.20 115.70,17.20 116.20,17.20 116.70,17.20 117.20,17.20 117.70,17.20 118.20,17.20 118.70,17.20 119.20,17.20 119.70,17.20 120.20,17.20 120.70,17.20 121.20,17.20 121.70,17.20 122.20,17.20 122.70,17.20 123.20,17.20 123.70,17.20 124.20,17.20 124.70,17.20 125.20,17.21 125.70,17.21 126.20,17.21 126.70,17.21 127.20,17.21 127.70,17.21 128.20,17.21 128.70,17.21 129.20,17.21 129.70,17.21 130.20,17.21 130.70,17.21 131.20,17.21 131.70,17.21 132.20,17.21 132.70,17.21 133.20,17.21 133.70,17.21 134.20,17.21 134.70,17.21 135.20,17.21 135.70,17.22 136.20,17.22 136.70,17.22 137.20,17.22 137.70,17.22 138.20,17.22 138.70,17.22 139.20,17.22 139.70,17.22 140.20,17.22 140.70,17.22 141.20,17.22 141.70,17.22 142.20,17.22 142.70,17.22 143.20,17.22 143.70,17.22 144.20,17.22 144.70,17.22 145.20,17.22 145.70,17.22 146.20,17.22 146.70,17.22 147.20,17.23 147.70,17.23 148.20,17.23 148.70,17.23 149.20,17.23 149.70,17.23 150.20,17.23 150.70,17.23 151.20,17.23 151.70,17.23 152.20,17.23 152.70,17.23 153.20,17.23 153.70,17.23 154.20,17.23 154.70,17.23 155.20,17.23 155.70,17.23 156.20,17.23 156.70,17.23 157.20,17.24 157.70,17.24 158.20,17.24 158.70,17.24 159.20,17.24 159.70,17.24 160.20,17.24 160.70,17.24 161.20,17.24 161.70,17.24 162.20,17.24 162.70,17.24 163.20,17.24 163.70,17.24 164.20,17.24 164.70,17.24 165.20,17.25 165.70,17.25 166.20,17.25 166.70,17.25 167.20,17.25 167.70,17.25 168.20,17.25 168.70,17.25 169.20,17.25 169.70,17.25 170.20,17.25 170.70,17.25 171.20,17.26 171.70,17.26 172.20,17.26 172.70,17.26 173.20,17.26 173.70,17.26 174.20,17.26 174.70,17.26 175.20,17.26 175.70,17.26 176.20,17.26 176.70,17.27 177.20,17.27 177.70,17.27 178.20,17.27 178.70,17.27 179.20,17.27 179.70,17.27 180.20,17.27 180.70,17.27 181.20,17.28 181.70,17.28 182.20,17.28 182.70,17.28 183.20,17.28 183.70,17.28 184.20,17.28 184.70,17.28 185.20,17.29 185.70,17.29 186.20,17.29 186.70,17.29 187.20,17.29 187.70,17.29 188.20,17.29 188.70,17.30 189.20,17.30 189.70,17.30 190.20,17.30 190.70,17.30 191.20,17.31 191.70,17.31 192.20,17.31 192.70,17.32 193.20,17.32 193.70,17.33 194.20,17.34 194.70,17.35 195.20,17.35 195.70,17.36 196.20,17.37 196.70,17.38 197.20,17.39 197.70,17.40 198.20,17.41 198.70,17.42 199.20,17.43 199.70,17.44 200.20,17.46 200.70,17.47 201.20,17.48 201.70,17.49 202.20,17.51 202.70,17.52 203.20,17.53 203.70,17.54 204.20,17.56 204.70,17.57 205.20,17.58 205.70,17.60 206.20,17.61 206.70,17.62 207.20,17.63 207.70,17.65 208.20,17.66 208.70,17.67 209.20,17.68 209.70,17.70 210.20,17.71 210.70,17.72 211.20,17.73 211.70,17.74 212.20,17.75 212.70,17.76 213.20,17.77 213.70,17.78 214.20,17.79 214.70,17.80 215.20,17.80 215.70,17.81 216.20,17.82 216.70,17.82 217.20,17.83 217.70,17.84 218.20,17.84 218.70,17.85 219.20,17.86 219.70,17.86 220.20,17.87 220.70,17.87 221.20,17.88 221.70,17.89 222.20,17.89 222.70,17.90 223.20,17.90 223.70,17.91 224.20,17.91 224.70,17.92 225.20,17.92 225.70,17.93 226.20,17.93 226.70,17.94 227.20,17.94 227.70,17.95 228.20,17.95 228.70,17.96 229.20,17.96 229.70,17.97 230.20,17.97 230.70,17.98 231.20,17.98 231.70,17.98 232.20,17.99 232.70,17.99 233.20,18.00 233.70,18.00 234.20,18.01 234.70,18.01 235.20,18.02 235.70,18.02 236.20,18.03 236.70,18.03 237.20,18.04 237.70,18.04 238.20,18.05 238.70,18.05 239.20,18.06 239.70,18.06 240.20,18.07 240.70,18.07 241.20,18.08 241.70,18.09 242.20,18.09 242.70,18.10 243.20,18.10 243.70,18.11 244.20,18.12 244.70,18.12 245.20,18.13 245.70,18.14 246.20,18.14 246.70,18.15 247.20,18.16 247.70,18.16 248.20,18.17 248.70,18.18 249.20,18.19 249.70,18.20 250.20,18.20 250.70,18.21 251.20,18.22 251.70,18.23 252.20,18.24 252.70,18.25 253.20,18.26 253.70,18.27 254.20,18.28 254.70,18.29 255.20,18.30 255.70,18.31 256.20,18.32 256.70,18.33 257.20,18.34 257.70,18.35 258.20,18.37 258.70,18.38 259.20,18.39 259.70,18.40 260.20,18.42 260.70,18.43 261.20,18.44 261.70,18.45 262.20,18.47 262.70,18.48 263.20,18.50 263.70,18.51 264.20,18.53 264.70,18.54 265.20,18.56 265.70,18.57 266.20,18.59 266.70,18.60 267.20,18.62 267.70,18.63 268.20,18.65 268.70,18.67 269.20,18.68 269.70,18.70 270.20,18.72 270.70,18.74 271.20,18.76 271.70,18.77 272.20,18.79 272.70,18.81 273.20,18.83 273.70,18.85 274.20,18.87 274.70,18.89 275.20,18.91 275.70,18.93 276.20,18.95 276.70,18.98 277.20,19.00 277.70,19.03 278.20,19.05 278.70,19.08 279.20,19.11 279.70,19.14 280.20,19.17 280.70,19.20 281.20,19.24 281.70,19.27 282.20,19.30 282.70,19.33 283.20,19.37 283.70,19.40 284.20,19.44 284.70,19.47 285.20,19.51 285.70,19.54 286.20,19.58 286.70,19.61 287.20,19.65 287.70,19.68 288.20,19.71 288.70,19.75 289.20,19.78 289.70,19.81" stroke="#e60000" stroke-width="2.0" stroke-dasharray="1.05 3.1"/>
<path d="M290.99,18.91L292.01,20.95M294.49,19.02L295.51,21.34M298.07,19.59L298.90,21.33M301.35,19.68L302.48,21.92M304.52,20.07L305.19,22.23M307.70,20.45L308.20,22.73M310.25,21.01L311.39,23.14M313.37,21.67L314.43,23.76M316.31,22.25L316.90,24.72M318.87,23.03L319.51,25.72M321.27,23.97L322.38,26.78M324.00,24.99L324.88,27.83M326.62,26.31L327.78,28.67M329.34,27.06L330.47,30.00M332.05,28.25L332.67,30.81M334.33,29.30L335.04,31.69M336.71,30.35L337.68,32.74M338.98,31.18L340.06,33.83M341.45,32.10L342.28,34.79M343.68,33.10L344.87,35.65M345.75,33.61L346.84,36.68M347.89,34.34L348.65,37.47" stroke="#e60000" stroke-width="1.2" stroke-linecap="round"/>
<polyline points="347.00,35.42 347.50,35.61 348.00,35.80 348.50,36.00 349.00,36.19 349.50,36.39 350.00,36.59 350.50,36.79 351.00,36.99 351.50,37.19 352.00,37.40 352.50,37.61 353.00,37.82 353.50,38.04 354.00,38.25 354.50,38.48 355.00,38.70 355.50,38.93 356.00,39.17 356.50,39.41 357.00,39.65 357.50,39.90 358.00,40.16 358.50,40.41 359.00,40.67 359.50,40.94 360.00,41.20 360.50,41.47 361.00,41.73 361.50,42.00 362.00,42.27 362.50,42.55 363.00,42.82 363.50,43.10 364.00,43.38 364.50,43.66 365.00,43.94 365.50,44.23 366.00,44.51 366.50,44.80 367.00,45.09 367.50,45.38 368.00,45.67 368.50,45.96 369.00,46.25 369.50,46.54 370.00,46.83 370.50,47.13 371.00,47.42 371.50,47.72 372.00,48.01 372.50,48.31 373.00,48.60 373.50,48.90 374.00,49.19 374.50,49.48 375.00,49.78 375.50,50.07 376.00,50.37 376.50,50.66 377.00,50.95 377.50,51.24 378.00,51.54 378.50,51.83 379.00,52.12 379.50,52.42 380.00,52.71 380.50,53.00 381.00,53.30 381.50,53.59 382.00,53.89 382.50,54.18 383.00,54.48 383.50,54.77 384.00,55.07 384.50,55.37 385.00,55.66 385.50,55.96 386.00,56.26 386.50,56.56 387.00,56.86 387.50,57.16 388.00,57.46 388.50,57.77 389.00,58.07 389.50,58.37 390.00,58.68 390.50,58.98 391.00,59.29 391.50,59.60 392.00,59.90 392.50,60.21 393.00,60.52 393.50,60.84 394.00,61.15 394.50,61.47 395.00,61.78 395.50,62.10 396.00,62.42 396.50,62.74 397.00,63.06 397.50,63.38 398.00,63.71 398.50,64.03 399.00,64.36 399.50,64.68 400.00,65.01 400.50,65.34 401.00,65.66 401.50,65.99 402.00,66.32 402.50,66.64 403.00,66.97 403.50,67.30 404.00,67.63 404.50,67.95 405.00,68.28 405.50,68.61 406.00,68.93 406.50,69.26 407.00,69.58 407.50,69.91 408.00,70.23 408.50,70.55 409.00,70.87 409.50,71.19 410.00,71.51 410.50,71.83 411.00,72.15 411.50,72.47 412.00,72.78 412.50,73.10 413.00,73.42 413.50,73.74 414.00,74.05 414.50,74.37 415.00,74.69 415.50,75.00 416.00,75.32 416.50,75.63 417.00,75.95" stroke="#e60000" stroke-width="1.7" stroke-opacity="0.8" stroke-dasharray="2.6 0.6 1.8 0.5"/>
<polyline points="346.00,35.65 346.74,34.45 348.20,36.77 349.51,34.44 350.96,38.07 351.94,36.02 353.26,38.69 354.56,36.75 355.95,39.79 357.41,39.12 358.38,41.84 359.81,40.01 361.25,43.26 362.20,41.33 363.05,43.56 363.86,41.70 365.36,44.98 366.10,42.54 367.23,46.41 368.12,44.27 369.48,47.79 370.52,46.46 371.95,48.63 373.04,46.81 373.85,50.76 375.31,48.45 376.64,51.49 377.69,50.54 379.06,53.19 380.12,50.73 381.51,55.61 382.57,52.91 383.85,56.28 384.79,54.35 385.60,57.17 387.09,54.93 388.29,58.97 389.27,57.50 390.18,60.52 391.58,58.52 392.91,62.19 394.16,59.69 395.47,63.21 396.73,61.88 397.82,65.31 399.07,63.38 400.53,66.90 401.70,65.50 402.83,67.83 404.07,66.40 405.42,70.10 406.76,68.32 407.98,71.88 409.34,69.98 410.71,73.83 411.96,70.75 413.43,75.04 414.55,73.56 415.92,77.23 417.00,74.35" stroke="#e60000" stroke-width="1.0" stroke-linejoin="miter" stroke-dasharray="6 0.8 4 0.6 9 1.0"/>
</g>
<rect x="45.5" y="10.25" width="373.6" height="248.25" fill="none" stroke="#000" stroke-width="1.1"/>
<path d="M45.50,258.5v-3.5M45.50,10.25v3.5M53.80,258.5v-1.9M53.80,10.25v1.9M62.10,258.5v-1.9M62.10,10.25v1.9M70.41,258.5v-1.9M70.41,10.25v1.9M78.71,258.5v-1.9M78.71,10.25v1.9M87.01,258.5v-3.5M87.01,10.25v3.5M95.31,258.5v-1.9M95.31,10.25v1.9M103.62,258.5v-1.9M103.62,10.25v1.9M111.92,258.5v-1.9M111.92,10.25v1.9M120.22,258.5v-1.9M120.22,10.25v1.9M128.52,258.5v-3.5M128.52,10.25v3.5M136.82,258.5v-1.9M136.82,10.25v1.9M145.13,258.5v-1.9M145.13,10.25v1.9M153.43,258.5v-1.9M153.43,10.25v1.9M161.73,258.5v-1.9M161.73,10.25v1.9M170.03,258.5v-3.5M170.03,10.25v3.5M178.34,258.5v-1.9M178.34,10.25v1.9M186.64,258.5v-1.9M186.64,10.25v1.9M194.94,258.5v-1.9M194.94,10.25v1.9M203.24,258.5v-1.9M203.24,10.25v1.9M211.54,258.5v-3.5M211.54,10.25v3.5M219.85,258.5v-1.9M219.85,10.25v1.9M228.15,258.5v-1.9M228.15,10.25v1.9M236.45,258.5v-1.9M236.45,10.25v1.9M244.75,258.5v-1.9M244.75,10.25v1.9M253.06,258.5v-3.5M253.06,10.25v3.5M261.36,258.5v-1.9M261.36,10.25v1.9M269.66,258.5v-1.9M269.66,10.25v1.9M277.96,258.5v-1.9M277.96,10.25v1.9M286.26,258.5v-1.9M286.26,10.25v1.9M294.57,258.5v-3.5M294.57,10.25v3.5M302.87,258.5v-1.9M302.87,10.25v1.9M311.17,258.5v-1.9M311.17,10.25v1.9M319.47,258.5v-1.9M319.47,10.25v1.9M327.78,258.5v-1.9M327.78,10.25v1.9M336.08,258.5v-3.5M336.08,10.25v3.5M344.38,258.5v-1.9M344.38,10.25v1.9M352.68,258.5v-1.9M352.68,10.25v1.9M360.98,258.5v-1.9M360.98,10.25v1.9M369.29,258.5v-1.9M369.29,10.25v1.9M377.59,258.5v-3.5M377.59,10.25v3.5M385.89,258.5v-1.9M385.89,10.25v1.9M394.19,258.5v-1.9M394.19,10.25v1.9M402.50,258.5v-1.9M402.50,10.25v1.9M410.80,258.5v-1.9M410.80,10.25v1.9M419.10,258.5v-3.5M419.10,10.25v3.5M45.5,256.84h1.8M419.1,256.84h-1.8M45.5,254.45h3.6M419.1,254.45h-3.6M45.5,252.06h1.8M419.1,252.06h-1.8M45.5,249.66h1.8M419.1,249.66h-1.8M45.5,247.27h1.8M419.1,247.27h-1.8M45.5,244.87h1.8M419.1,244.87h-1.8M45.5,242.48h1.8M419.1,242.48h-1.8M45.5,240.08h1.8M419.1,240.08h-1.8M45.5,237.69h1.8M419.1,237.69h-1.8M45.5,235.29h1.8M419.1,235.29h-1.8M45.5,232.90h1.8M419.1,232.90h-1.8M45.5,230.50h3.6M419.1,230.50h-3.6M45.5,228.11h1.8M419.1,228.11h-1.8M45.5,225.72h1.8M419.1,225.72h-1.8M45.5,223.32h1.8M419.1,223.32h-1.8M45.5,220.93h1.8M419.1,220.93h-1.8M45.5,218.53h1.8M419.1,218.53h-1.8M45.5,216.14h1.8M419.1,216.14h-1.8M45.5,213.74h1.8M419.1,213.74h-1.8M45.5,211.35h1.8M419.1,211.35h-1.8M45.5,208.95h1.8M419.1,208.95h-1.8M45.5,206.56h3.6M419.1,206.56h-3.6M45.5,204.17h1.8M419.1,204.17h-1.8M45.5,201.77h1.8M419.1,201.77h-1.8M45.5,199.38h1.8M419.1,199.38h-1.8M45.5,196.98h1.8M419.1,196.98h-1.8M45.5,194.59h1.8M419.1,194.59h-1.8M45.5,192.19h1.8M419.1,192.19h-1.8M45.5,189.80h1.8M419.1,189.80h-1.8M45.5,187.40h1.8M419.1,187.40h-1.8M45.5,185.01h1.8M419.1,185.01h-1.8M45.5,182.62h3.6M419.1,182.62h-3.6M45.5,180.22h1.8M419.1,180.22h-1.8M45.5,177.83h1.8M419.1,177.83h-1.8M45.5,175.43h1.8M419.1,175.43h-1.8M45.5,173.04h1.8M419.1,173.04h-1.8M45.5,170.64h1.8M419.1,170.64h-1.8M45.5,168.25h1.8M419.1,168.25h-1.8M45.5,165.85h1.8M419.1,165.85h-1.8M45.5,163.46h1.8M419.1,163.46h-1.8M45.5,161.06h1.8M419.1,161.06h-1.8M45.5,158.67h3.6M419.1,158.67h-3.6M45.5,156.28h1.8M419.1,156.28h-1.8M45.5,153.88h1.8M419.1,153.88h-1.8M45.5,151.49h1.8M419.1,151.49h-1.8M45.5,149.09h1.8M419.1,149.09h-1.8M45.5,146.70h1.8M419.1,146.70h-1.8M45.5,144.30h1.8M419.1,144.30h-1.8M45.5,141.91h1.8M419.1,141.91h-1.8M45.5,139.51h1.8M419.1,139.51h-1.8M45.5,137.12h1.8M419.1,137.12h-1.8M45.5,134.72h3.6M419.1,134.72h-3.6M45.5,132.33h1.8M419.1,132.33h-1.8M45.5,129.94h1.8M419.1,129.94h-1.8M45.5,127.54h1.8M419.1,127.54h-1.8M45.5,125.15h1.8M419.1,125.15h-1.8M45.5,122.75h1.8M419.1,122.75h-1.8M45.5,120.36h1.8M419.1,120.36h-1.8M45.5,117.96h1.8M419.1,117.96h-1.8M45.5,115.57h1.8M419.1,115.57h-1.8M45.5,113.17h1.8M419.1,113.17h-1.8M45.5,110.78h3.6M419.1,110.78h-3.6M45.5,108.39h1.8M419.1,108.39h-1.8M45.5,105.99h1.8M419.1,105.99h-1.8M45.5,103.60h1.8M419.1,103.60h-1.8M45.5,101.20h1.8M419.1,101.20h-1.8M45.5,98.81h1.8M419.1,98.81h-1.8M45.5,96.41h1.8M419.1,96.41h-1.8M45.5,94.02h1.8M419.1,94.02h-1.8M45.5,91.62h1.8M419.1,91.62h-1.8M45.5,89.23h1.8M419.1,89.23h-1.8M45.5,86.83h3.6M419.1,86.83h-3.6M45.5,84.44h1.8M419.1,84.44h-1.8M45.5,82.05h1.8M419.1,82.05h-1.8M45.5,79.65h1.8M419.1,79.65h-1.8M45.5,77.26h1.8M419.1,77.26h-1.8M45.5,74.86h1.8M419.1,74.86h-1.8M45.5,72.47h1.8M419.1,72.47h-1.8M45.5,70.07h1.8M419.1,70.07h-1.8M45.5,67.68h1.8M419.1,67.68h-1.8M45.5,65.28h1.8M419.1,65.28h-1.8M45.5,62.89h3.6M419.1,62.89h-3.6M45.5,60.50h1.8M419.1,60.50h-1.8M45.5,58.10h1.8M419.1,58.10h-1.8M45.5,55.71h1.8M419.1,55.71h-1.8M45.5,53.31h1.8M419.1,53.31h-1.8M45.5,50.92h1.8M419.1,50.92h-1.8M45.5,48.52h1.8M419.1,48.52h-1.8M45.5,46.13h1.8M419.1,46.13h-1.8M45.5,43.73h1.8M419.1,43.73h-1.8M45.5,41.34h1.8M419.1,41.34h-1.8M45.5,38.94h3.6M419.1,38.94h-3.6M45.5,36.55h1.8M419.1,36.55h-1.8M45.5,34.16h1.8M419.1,34.16h-1.8M45.5,31.76h1.8M419.1,31.76h-1.8M45.5,29.37h1.8M419.1,29.37h-1.8M45.5,26.97h1.8M419.1,26.97h-1.8M45.5,24.58h1.8M419.1,24.58h-1.8M45.5,22.18h1.8M419.1,22.18h-1.8M45.5,19.79h1.8M419.1,19.79h-1.8M45.5,17.39h1.8M419.1,17.39h-1.8M45.5,15.00h3.6M419.1,15.00h-3.6M45.5,12.61h1.8M419.1,12.61h-1.8" stroke="#000" stroke-width="1.0" fill="none"/>
<g font-family="Liberation Sans, sans-serif" font-size="16" fill="#000">
<text x="39.6" y="260.65" text-anchor="end">0</text>
<text x="39.6" y="236.70" text-anchor="end">0.1</text>
<text x="39.6" y="212.76" text-anchor="end">0.2</text>
<text x="39.6" y="188.81" text-anchor="end">0.3</text>
<text x="39.6" y="164.87" text-anchor="end">0.4</text>
<text x="39.6" y="140.92" text-anchor="end">0.5</text>
<text x="39.6" y="116.98" text-anchor="end">0.6</text>
<text x="39.6" y="93.03" text-anchor="end">0.7</text>
<text x="39.6" y="69.09" text-anchor="end">0.8</text>
<text x="39.6" y="45.14" text-anchor="end">0.9</text>
<text x="39.6" y="21.20" text-anchor="end">1</text>
<text x="47.40" y="275.2" text-anchor="middle">1.5</text>
<text x="88.91" y="275.2" text-anchor="middle">2</text>
<text x="130.42" y="275.2" text-anchor="middle">2.5</text>
<text x="171.93" y="275.2" text-anchor="middle">3</text>
<text x="213.44" y="275.2" text-anchor="middle">3.5</text>
<text x="254.96" y="275.2" text-anchor="middle">4</text>
<text x="296.47" y="275.2" text-anchor="middle">4.5</text>
<text x="337.98" y="275.2" text-anchor="middle">5</text>
<text x="379.49" y="275.2" text-anchor="middle">5.5</text>
<text x="421.00" y="275.2" text-anchor="middle">6</text>
<text x="138.0" y="290.8">Mass Coordinate (M</text>
<text x="282.5" y="295.3" font-size="12">r</text>
<text x="291.2" y="290.8">/M</text>
<circle cx="314.6" cy="290.3" r="3.95" fill="none" stroke="#000" stroke-width="0.9"/><circle cx="314.6" cy="290.3" r="1" fill="#000"/>
<text x="319.9" y="290.8">)</text>
<text transform="translate(13.2,172.8) rotate(-90)" font-size="15.7">Probability</text>
</g>
<text x="51.7" y="44.1" font-family="Liberation Sans, sans-serif" font-size="14.4" font-weight="bold" fill="#000">(a) (NH) HKC18</text>
<path d="M59.9,64.8H55.9V85.6H59.9" fill="none" stroke="#000" stroke-width="1.7"/>
<g font-family="Liberation Sans, sans-serif" fill="#000">
<text x="62.3" y="69.35" font-size="14.3">P<tspan font-size="11.9" dy="4.2">ee</tspan><tspan dy="-4.2"> = P</tspan></text>
<text x="62.3" y="87.55" font-size="14.3">P<tspan font-size="11.9" dy="4.2">xe</tspan><tspan dy="-4.2"> = P</tspan></text>
</g>
<text x="110.7" y="71.6" font-family="Liberation Serif, serif" font-size="10.9" fill="#000">ν</text><text x="115.6" y="74.89999999999999" font-family="Liberation Sans, sans-serif" font-size="8.3" fill="#000">e</text>
<path d="M120.8,68.8H127.1" fill="none" stroke="#222" stroke-width="0.8"/><path d="M126.19999999999999,67.45L128.6,68.8L126.19999999999999,70.14999999999999Z" fill="#111"/>
<text x="129.3" y="71.6" font-family="Liberation Serif, serif" font-size="10.9" fill="#000">ν</text><text x="134.2" y="74.89999999999999" font-family="Liberation Sans, sans-serif" font-size="8.3" fill="#000">e</text>
<text x="109.9" y="90.4" font-family="Liberation Serif, serif" font-size="10.9" fill="#000">ν</text><text x="114.6" y="93.7" font-family="Liberation Sans, sans-serif" font-size="8.3" fill="#000">μ</text>
<path d="M120.8,87.6H126.69999999999999" fill="none" stroke="#222" stroke-width="0.8"/><path d="M125.79999999999998,86.25L128.2,87.6L125.79999999999998,88.94999999999999Z" fill="#111"/>
<text x="128.6" y="90.4" font-family="Liberation Serif, serif" font-size="10.9" fill="#000">ν</text><text x="133.5" y="93.7" font-family="Liberation Sans, sans-serif" font-size="8.3" fill="#000">e</text>
<text x="138.8" y="87.4" font-family="Liberation Sans, sans-serif" font-size="14.4" fill="#000">+P</text>
<text x="156.4" y="90.4" font-family="Liberation Serif, serif" font-size="10.9" fill="#000">ν</text><text x="161.2" y="93.7" font-family="Liberation Sans, sans-serif" font-size="8.3" fill="#000">τ</text>
<path d="M166.6,87.6H171.9" fill="none" stroke="#222" stroke-width="0.8"/><path d="M171.0,86.25L173.4,87.6L171.0,88.94999999999999Z" fill="#111"/>
<text x="174.4" y="90.4" font-family="Liberation Serif, serif" font-size="10.9" fill="#000">ν</text><text x="179.3" y="93.7" font-family="Liberation Sans, sans-serif" font-size="8.3" fill="#000">e</text>
<text x="212" y="35.4" font-family="Liberation Sans, sans-serif" font-size="15.6" fill="#1e90ff">P<tspan font-size="13.4" dy="3.7" dx="-0.7">ee</tspan></text>
<text x="362.0" y="78.5" font-family="Liberation Sans, sans-serif" font-size="15.2" fill="#ff0000">P<tspan font-size="13.5" dy="3.8" dx="-0.7">ee</tspan></text><path d="M373.3,73.5H377.4" stroke="#ff0000" stroke-width="0.9"/><path d="M380.6,73.5H384.8" stroke="#ff0000" stroke-width="0.9"/>
<text x="212.3" y="233.6" font-family="Liberation Sans, sans-serif" font-size="15.4" fill="#008000">P<tspan font-size="13.5" dy="4.2" dx="-0.7">xe</tspan></text>
<text x="361.5" y="197.8" font-family="Liberation Sans, sans-serif" font-size="15.6" fill="#ffa500">P<tspan font-size="13.4" dy="4.0" dx="-0.7">xe</tspan></text><path d="M373.6,193.1H376.4" stroke="#ffa500" stroke-width="0.9"/><path d="M379.9,193.1H384" stroke="#ffa500" stroke-width="0.9"/>
</svg>
</body></html>
